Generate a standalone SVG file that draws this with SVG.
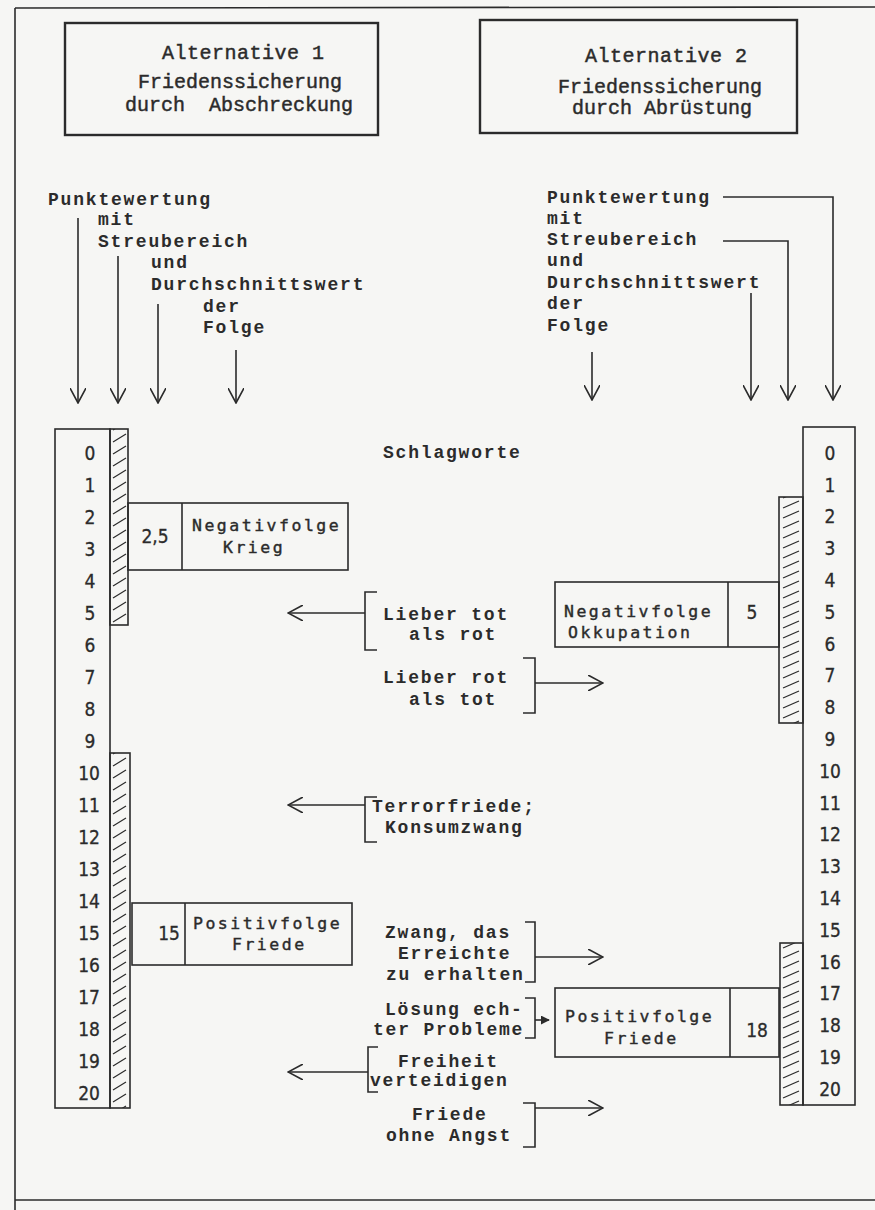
<svg xmlns="http://www.w3.org/2000/svg" width="875" height="1210" viewBox="0 0 875 1210">
<defs>
<style>
.ln{stroke:#2b2b2b;stroke-width:1.6;fill:none}
.bx{stroke:#2b2b2b;stroke-width:1.6;fill:none}
.hl{stroke:#2b2b2b;stroke-width:1.6;fill:url(#hl)}
.hr{stroke:#2b2b2b;stroke-width:1.6;fill:url(#hr)}
.alt{stroke:#2b2b2b;stroke-width:2.4;fill:none}
.tw{font-family:"Liberation Mono",monospace;font-weight:bold;font-size:18px;letter-spacing:1.8px;fill:#2b2b2b;white-space:pre}
.tl{font-family:"Liberation Mono",monospace;font-size:20px;fill:#2b2b2b;stroke:#2b2b2b;stroke-width:0.45;white-space:pre}
.sn{font-family:"DejaVu Sans Mono",monospace;font-size:16.5px;letter-spacing:2.5px;fill:#2b2b2b;stroke:#2b2b2b;stroke-width:0.4}
.nm{font-family:"DejaVu Sans Condensed","DejaVu Sans",sans-serif;font-size:19px;fill:#2b2b2b;stroke:#2b2b2b;stroke-width:0.3;text-anchor:middle}
</style>
<marker id="ah" viewBox="0 0 16 16" refX="15" refY="8" markerWidth="16" markerHeight="16" markerUnits="userSpaceOnUse" orient="auto">
<path d="M0,0 L15,8 L0,16" fill="none" stroke="#2b2b2b" stroke-width="1.6"/>
</marker>
<marker id="as" viewBox="0 0 10 10" refX="9" refY="5" markerWidth="9" markerHeight="9" markerUnits="userSpaceOnUse" orient="auto">
<path d="M0,0 L10,5 L0,10 Z" fill="#2b2b2b"/>
</marker>
<pattern id="hl" patternUnits="userSpaceOnUse" x="110" y="0" width="19" height="12">
<line x1="3" y1="10" x2="16" y2="2" stroke="#2b2b2b" stroke-width="1.3"/>
</pattern>
<pattern id="hr" patternUnits="userSpaceOnUse" x="779" y="0" width="24" height="10">
<line x1="4" y1="8" x2="20" y2="1" stroke="#2b2b2b" stroke-width="1.3"/>
</pattern>
</defs>
<rect width="875" height="1210" fill="#f6f6f4"/>

<g id="frame">
<line class="ln" x1="15" y1="8" x2="875" y2="7"/>
<line class="ln" x1="15" y1="8" x2="15" y2="1210"/>
<line class="ln" x1="15" y1="1200" x2="875" y2="1200"/>
</g>

<g id="alt1">
<rect class="alt" x="65" y="23" width="313" height="112"/>
<text class="tl" x="162" y="59" letter-spacing="0.5">Alternative 1</text>
<text class="tl" x="138" y="88">Friedenssicherung</text>
<text class="tl" x="125" y="111">durch  Abschreckung</text>
</g>

<g id="alt2">
<rect class="alt" x="480" y="20" width="317" height="113"/>
<text class="tl" x="585" y="62" letter-spacing="0.5">Alternative 2</text>
<text class="tl" x="558" y="93">Friedenssicherung</text>
<text class="tl" x="572" y="114">durch Abrüstung</text>
</g>

<g id="labels-left">
<text class="tw" x="48" y="205">Punktewertung</text>
<text class="tw" x="98" y="225">mit</text>
<text class="tw" x="98" y="247">Streubereich</text>
<text class="tw" x="151" y="268">und</text>
<text class="tw" x="151" y="290">Durchschnittswert</text>
<text class="tw" x="203" y="312">der</text>
<text class="tw" x="203" y="333">Folge</text>
</g>

<g id="labels-right">
<text class="tw" x="547" y="203">Punktewertung</text>
<text class="tw" x="547" y="224">mit</text>
<text class="tw" x="547" y="245">Streubereich</text>
<text class="tw" x="547" y="266">und</text>
<text class="tw" x="547" y="288">Durchschnittswert</text>
<text class="tw" x="547" y="309">der</text>
<text class="tw" x="547" y="331">Folge</text>
</g>

<g id="schlagworte">
<text class="tw" x="383" y="458">Schlagworte</text>
</g>

<g id="scale-left">
<rect class="bx" x="55" y="429" width="55" height="679"/>
<rect class="hl" x="110" y="429" width="18" height="196"/>
<rect class="hl" x="110" y="753" width="20" height="355"/>
<text class="nm" x="90" y="460">0</text>
<text class="nm" x="90" y="492">1</text>
<text class="nm" x="90" y="524">2</text>
<text class="nm" x="90" y="556">3</text>
<text class="nm" x="90" y="588">4</text>
<text class="nm" x="90" y="620">5</text>
<text class="nm" x="90" y="652">6</text>
<text class="nm" x="90" y="684">7</text>
<text class="nm" x="90" y="716">8</text>
<text class="nm" x="90" y="748">9</text>
<text class="nm" x="89" y="780">10</text>
<text class="nm" x="89" y="812">11</text>
<text class="nm" x="89" y="844">12</text>
<text class="nm" x="89" y="876">13</text>
<text class="nm" x="89" y="908">14</text>
<text class="nm" x="89" y="940">15</text>
<text class="nm" x="89" y="972">16</text>
<text class="nm" x="89" y="1004">17</text>
<text class="nm" x="89" y="1036">18</text>
<text class="nm" x="89" y="1068">19</text>
<text class="nm" x="89" y="1100">20</text>
</g>

<g id="scale-right">
<rect class="bx" x="803" y="427" width="52" height="678"/>
<rect class="hr" x="779" y="497" width="24" height="226"/>
<rect class="hr" x="780" y="943" width="23" height="162"/>
<text class="nm" x="830" y="460">0</text>
<text class="nm" x="830" y="492">1</text>
<text class="nm" x="830" y="523">2</text>
<text class="nm" x="830" y="555">3</text>
<text class="nm" x="830" y="587">4</text>
<text class="nm" x="830" y="619">5</text>
<text class="nm" x="830" y="651">6</text>
<text class="nm" x="830" y="682">7</text>
<text class="nm" x="830" y="714">8</text>
<text class="nm" x="830" y="746">9</text>
<text class="nm" x="830" y="778">10</text>
<text class="nm" x="830" y="810">11</text>
<text class="nm" x="830" y="841">12</text>
<text class="nm" x="830" y="873">13</text>
<text class="nm" x="830" y="905">14</text>
<text class="nm" x="830" y="937">15</text>
<text class="nm" x="830" y="969">16</text>
<text class="nm" x="830" y="1000">17</text>
<text class="nm" x="830" y="1032">18</text>
<text class="nm" x="830" y="1064">19</text>
<text class="nm" x="830" y="1096">20</text>
</g>

<g id="neg-krieg">
<rect class="bx" x="128" y="503" width="220" height="67"/>
<line class="ln" x1="182" y1="503" x2="182" y2="570"/>
<text class="nm" x="155" y="543">2,5</text>
<text class="sn" x="192" y="531">Negativfolge</text>
<text class="sn" x="223" y="553">Krieg</text>
</g>

<g id="neg-okkupation">
<rect class="bx" x="555" y="582" width="224" height="65"/>
<line class="ln" x1="728" y1="582" x2="728" y2="647"/>
<text class="nm" x="752" y="619">5</text>
<text class="sn" x="564" y="617">Negativfolge</text>
<text class="sn" x="568" y="638" letter-spacing="3.5">Okkupation</text>
</g>

<g id="pos-friede-left">
<rect class="bx" x="132" y="903" width="220" height="62"/>
<line class="ln" x1="185" y1="903" x2="185" y2="965"/>
<text class="nm" x="169" y="940">15</text>
<text class="sn" x="193" y="929">Positivfolge</text>
<text class="sn" x="232" y="950">Friede</text>
</g>

<g id="pos-friede-right">
<rect class="bx" x="555" y="988" width="224" height="69"/>
<line class="ln" x1="730" y1="988" x2="730" y2="1057"/>
<text class="nm" x="757" y="1037">18</text>
<text class="sn" x="565" y="1022">Positivfolge</text>
<text class="sn" x="604" y="1044">Friede</text>
</g>

<g id="slogans">
<text class="tw" x="383" y="620">Lieber tot</text>
<text class="tw" x="409" y="640">als rot</text>
<text class="tw" x="383" y="683">Lieber rot</text>
<text class="tw" x="409" y="705">als tot</text>
<text class="tw" x="372" y="812">Terrorfriede;</text>
<text class="tw" x="385" y="833">Konsumzwang</text>
<text class="tw" x="385" y="938">Zwang, das</text>
<text class="tw" x="398" y="959">Erreichte</text>
<text class="tw" x="386" y="980">zu erhalten</text>
<text class="tw" x="385" y="1015">Lösung ech-</text>
<text class="tw" x="373" y="1035">ter Probleme</text>
<text class="tw" x="398" y="1067">Freiheit</text>
<text class="tw" x="370" y="1086">verteidigen</text>
<text class="tw" x="412" y="1120">Friede</text>
<text class="tw" x="386" y="1141">ohne Angst</text>
</g>

<g id="connectors">
<line class="ln" x1="78" y1="218" x2="78" y2="403" marker-end="url(#ah)"/>
<line class="ln" x1="118" y1="256" x2="118" y2="403" marker-end="url(#ah)"/>
<line class="ln" x1="158" y1="304" x2="158" y2="403" marker-end="url(#ah)"/>
<line class="ln" x1="236" y1="350" x2="236" y2="403" marker-end="url(#ah)"/>
<path class="ln" d="M723,197 H833 V400" marker-end="url(#ah)"/>
<path class="ln" d="M723,241 H788 V400" marker-end="url(#ah)"/>
<line class="ln" x1="751" y1="293" x2="751" y2="400" marker-end="url(#ah)"/>
<line class="ln" x1="592" y1="352" x2="592" y2="400" marker-end="url(#ah)"/>
<path class="ln" d="M377,592 H365 V650 H377"/>
<line class="ln" x1="365" y1="613" x2="288" y2="613" marker-end="url(#ah)"/>
<path class="ln" d="M523,658 H535 V713 H523"/>
<line class="ln" x1="535" y1="683" x2="603" y2="683" marker-end="url(#ah)"/>
<path class="ln" d="M377,797 H365 V842 H377"/>
<line class="ln" x1="365" y1="805" x2="288" y2="805" marker-end="url(#ah)"/>
<path class="ln" d="M525,922 H535 V982 H525"/>
<line class="ln" x1="535" y1="957" x2="603" y2="957" marker-end="url(#ah)"/>
<path class="ln" d="M525,998 H535 V1038 H525"/>
<line class="ln" x1="535" y1="1020" x2="549" y2="1020" marker-end="url(#as)"/>
<path class="ln" d="M378,1047 H368 V1092 H378"/>
<line class="ln" x1="368" y1="1072" x2="288" y2="1072" marker-end="url(#ah)"/>
<path class="ln" d="M523,1103 H535 V1147 H523"/>
<line class="ln" x1="535" y1="1108" x2="603" y2="1108" marker-end="url(#ah)"/>
</g>
</svg>
